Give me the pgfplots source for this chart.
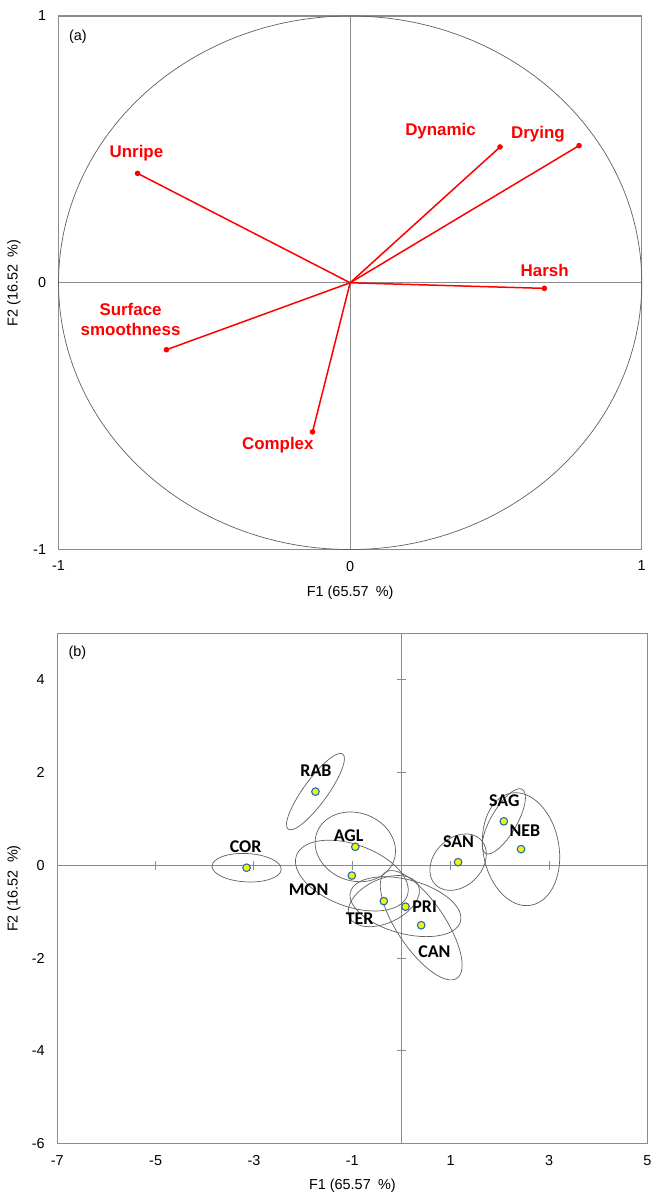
\documentclass[border=0pt]{standalone}
\usepackage{pgfplots}
\pgfplotsset{compat=1.18}
\usepackage{fontspec}
\setmainfont{Liberation Sans}
\newfontfamily\calib{Carlito}
\definecolor{boxgray}{RGB}{140,140,140}
\definecolor{ellgray}{RGB}{95,95,95}
\definecolor{ptblue}{RGB}{30,110,180}
\definecolor{vecred}{RGB}{255,0,0}

\pgfplotsset{
  pcastyle/.style={
    scale only axis,
    anchor=south west,
    axis line style={boxgray, line width=1.1bp},
    major tick length=0pt,
    tick style={draw=none},
    ticklabel style={font=\fontsize{14.5}{16}\selectfont, text=black},
    xticklabel style={yshift=-8bp},
    yticklabel style={xshift=-9bp},
    label style={font=\fontsize{14.5}{16}\selectfont},
    clip=false,
  },
  vec/.style={draw=vecred, line width=1.5bp, solid, mark=*, mark size=2bp, mark indices={2}, mark options={solid, draw=vecred, fill=vecred}},
}

\pgfplotstableread{
x y
-3.15 -0.05
-1.75 1.59
-0.94 0.40
-1.01 -0.22
-0.36 -0.77
0.08 -0.89
0.40 -1.29
1.15 0.07
2.08 0.95
2.43 0.35
}\products

\begin{document}
\begin{tikzpicture}
\path (0bp,0bp) rectangle (656bp,-1196bp);

% ---------------- panel (a)
\begin{axis}[pcastyle,
  at={(58.6bp,-550bp)}, width=583.7bp, height=534bp,
  xmin=-1, xmax=1, ymin=-1, ymax=1,
  xtick={-1,0,1}, ytick={-1,0,1},
  xticklabels={-1,0,1}, yticklabels={-1,0,1},
  xlabel={F1 (65.57\enspace\%)}, ylabel={F2 (16.52\enspace\%)},
  xlabel style={at={(axis description cs:0.5,-0.0805)}, anchor=center},
  ylabel style={at={(axis description cs:-0.0764,0.5)}, anchor=center},
]
\draw[boxgray, line width=1.1bp] (axis cs:-1,0) -- (axis cs:1,0);
\draw[boxgray, line width=1.1bp] (axis cs:0,-1) -- (axis cs:0,1);
\draw[ellgray, line width=0.7bp] (axis cs:0,0) ellipse [x radius=1, y radius=1];

\addplot[vec] coordinates {(0,0) (-0.729,0.410)};   % Unripe
\addplot[vec] coordinates {(0,0) (0.514,0.509)};    % Dynamic
\addplot[vec] coordinates {(0,0) (0.785,0.514)};    % Drying
\addplot[vec] coordinates {(0,0) (0.666,-0.021)};   % Harsh
\addplot[vec] coordinates {(0,0) (-0.630,-0.251)};  % Surface smoothness
\addplot[vec] coordinates {(0,0) (-0.129,-0.559)};  % Complex

\begin{scope}[every node/.style={text=vecred, font=\bfseries\fontsize{17}{20}\selectfont, align=center}]
\node at (axis cs:-0.733,0.487) {Unripe};
\node at (axis cs:0.310,0.569) {Dynamic};
\node at (axis cs:0.644,0.557) {Drying};
\node at (axis cs:0.667,0.046) {Harsh};
\node at (axis cs:-0.753,-0.139) {Surface\\smoothness};
\node at (axis cs:-0.248,-0.608) {Complex};
\end{scope}
\node[font=\fontsize{14.5}{16}\selectfont] at (rel axis cs:0.0332,0.961) {(a)};
\end{axis}

% ---------------- panel (b)
\begin{axis}[pcastyle,
  at={(57.3bp,-1144.7bp)}, width=590.7bp, height=510.7bp,
  xmin=-7, xmax=5, ymin=-6, ymax=5,
  xtick={-7,-5,-3,-1,1,3,5}, ytick={-6,-4,-2,0,2,4},
  xticklabels={-7,-5,-3,-1,1,3,5}, yticklabels={-6,-4,-2,0,2,4},
  xlabel={F1 (65.57\enspace\%)}, ylabel={F2 (16.52\enspace\%)},
  xlabel style={at={(axis description cs:0.5,-0.0828)}, anchor=center},
  ylabel style={at={(axis description cs:-0.0733,0.5)}, anchor=center},
]
\draw[boxgray, line width=1.1bp] (axis cs:-7,0) -- (axis cs:5,0);
\draw[boxgray, line width=1.1bp] (axis cs:0,-6) -- (axis cs:0,5);
\pgfplotsinvokeforeach{-5,-3,-1,1,3}{
  \draw[boxgray, line width=1bp] (axis cs:#1,0) ++(0bp,-4.5bp) -- ++(0bp,9bp);
}
\pgfplotsinvokeforeach{-4,-2,2,4}{
  \draw[boxgray, line width=1bp] (axis cs:0,#1) ++(-4.5bp,0bp) -- ++(9bp,0bp);
}

% confidence ellipses: centre, semi-axes (bp), angle
\begin{scope}[ellgray, line width=0.7bp]
\draw[rotate around={-3:(axis cs:-3.15,-0.05)}] (axis cs:-3.15,-0.05) ellipse [x radius=34.7bp, y radius=14.2bp];
\draw[rotate around={54:(axis cs:-1.75,1.59)}] (axis cs:-1.75,1.59) ellipse [x radius=46.5bp, y radius=12bp];
\draw[rotate around={-20:(axis cs:-0.94,0.40)}] (axis cs:-0.94,0.40) ellipse [x radius=41bp, y radius=34bp];
\draw[rotate around={-20:(axis cs:-1.01,-0.22)}] (axis cs:-1.01,-0.22) ellipse [x radius=59bp, y radius=31bp];
\draw[rotate around={25:(axis cs:-0.36,-0.77)}] (axis cs:-0.36,-0.77) ellipse [x radius=38bp, y radius=22bp];
\draw[rotate around={-15:(axis cs:0.08,-0.89)}] (axis cs:0.08,-0.89) ellipse [x radius=57bp, y radius=27bp];
\draw[rotate around={-56:(axis cs:0.40,-1.29)}] (axis cs:0.40,-1.29) ellipse [x radius=64bp, y radius=24bp];
\draw[rotate around={45:(axis cs:1.15,0.07)}] (axis cs:1.15,0.07) ellipse [x radius=32bp, y radius=24bp];
\draw[rotate around={60:(axis cs:2.08,0.95)}] (axis cs:2.08,0.95) ellipse [x radius=37bp, y radius=13bp];
\draw[rotate around={100:(axis cs:2.43,0.35)}] (axis cs:2.43,0.35) ellipse [x radius=57bp, y radius=38bp];
\end{scope}

\addplot[only marks, mark=*, mark size=3.8bp, mark options={fill=yellow, draw=ptblue, line width=1.1bp}] table[x=x, y=y] {\products};

\begin{scope}[every node/.style={font=\calib\bfseries\fontsize{18}{20}\selectfont}]
\node at (axis cs:-1.74,2.04) {RAB};
\node at (axis cs:-3.17,0.40) {COR};
\node at (axis cs:-1.075,0.645) {AGL};
\node at (axis cs:-1.89,-0.52) {MON};
\node at (axis cs:-0.85,-1.146) {TER};
\node at (axis cs:0.47,-0.88) {PRI};
\node at (axis cs:0.67,-1.86) {CAN};
\node at (axis cs:1.16,0.516) {SAN};
\node at (axis cs:2.09,1.40) {SAG};
\node at (axis cs:2.51,0.746) {NEB};
\end{scope}
\node[font=\fontsize{14.5}{16}\selectfont] at (rel axis cs:0.0342,0.963) {(b)};
\end{axis}
\end{tikzpicture}
\end{document}
